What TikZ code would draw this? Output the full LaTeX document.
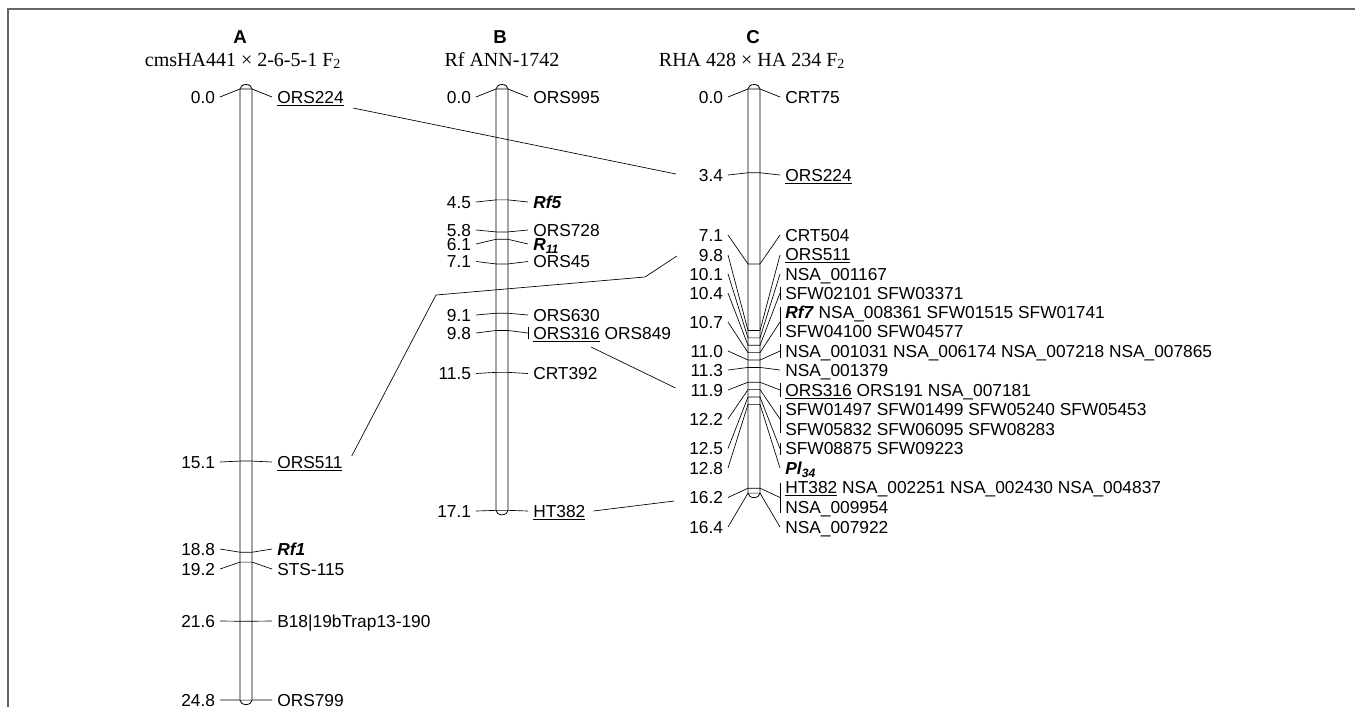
\documentclass[tikz,border=0pt]{standalone}
\usepackage{fontspec}
\setmainfont{Liberation Sans}
\newfontfamily\titlefont{Liberation Serif}
\usetikzlibrary{calc}
\newcommand{\gene}[1]{\textbf{\textit{#1}}}

\tikzset{
  bar/.style={draw=black, fill=white, line width=0.6pt},
  link/.style={draw=black, line width=0.5pt},
  frame/.style={draw=black!60, line width=1.1pt},
  num/.style={anchor=east, inner sep=0pt, outer xsep=3.75pt, font=\fontsize{13}{15}\selectfont,
    text height=9.3pt, text depth=0pt},
  lab/.style={anchor=west, inner sep=0pt, font=\fontsize{13}{15}\selectfont,
    text height=9.3pt, text depth=0pt},
  hd/.style={anchor=base, inner sep=0pt, font=\bfseries\fontsize{14}{16}\selectfont},
  ttl/.style={anchor=base, inner sep=0pt, font=\titlefont\fontsize{15}{18}\selectfont}
}

\begin{document}
\begin{tikzpicture}[x=0.75pt, y=-0.75pt, declare function={cy(\c)=89+24.64*\c;}]
  \useasboundingbox (0,0) rectangle (1355,707);
  \draw[frame] (8,707) -- (8,9) -- (1355,9);

  % Titulos
  \node[hd] (hA) at (240,43) {A};
  \node[ttl] (tA) at (243,66) {cmsHA441 × 2-6-5-1 F\textsubscript{2}};
  \node[hd] (hB) at (500,43) {B};
  \node[ttl] (tB) at (502,66) {Rf ANN-1742};
  \node[hd] (hC) at (753,43) {C};
  \node[ttl] (tC) at (752,66) {RHA 428 × HA 234 F\textsubscript{2}};

  % Grupo A
  \begin{scope}[shift={(246,0)}]
    \draw[bar] (-6,{cy(0)}) arc[start angle=180, end angle=360, x radius=6, y radius=4.5]
      -- (6,{cy(24.8)}) arc[start angle=0, end angle=180, x radius=6, y radius=4.5] -- cycle;
    \foreach \id/\cm/\ly in {A1/0.0/97, A2/15.1/462, A3/18.8/549, A4/19.2/569,
        A5/21.6/621, A6/24.8/700}{
      \node[num] (\id) at (-26,\ly) {\cm};
      \coordinate (\id-l) at (-6,{cy(\cm)});
      \coordinate (\id-r) at (6,{cy(\cm)});
      \coordinate (\id-t) at (26,\ly);
      \draw[link] (\id.east) -- (\id-l) -- (\id-r) -- (\id-t);
    }
    \foreach \id/\ly/\txt in {A1-lab/97/\underline{ORS224}, A2-lab/462/\underline{ORS511},
        A3-lab/549/\gene{Rf1}, A4-lab/569/STS-115, A5-lab/621/B18\textbar19bTrap13-190,
        A6-lab/700/ORS799}{
      \node[lab] (\id) at (31,\ly) {\txt};
    }
  \end{scope}

  % Grupo B
  \begin{scope}[shift={(502,0)}]
    \draw[bar] (-6,{cy(0)}) arc[start angle=180, end angle=360, x radius=6, y radius=4.5]
      -- (6,{cy(17.1)}) arc[start angle=0, end angle=180, x radius=6, y radius=4.5] -- cycle;
    \foreach \id/\cm/\ly in {B1/0.0/97, B2/4.5/202, B3/5.8/230, B4/6.1/244, B5/7.1/261.5,
        B6/9.1/315, B7/9.8/333, B8/11.5/373.5, B9/17.1/511}{
      \node[num] (\id) at (-26,\ly) {\cm};
      \coordinate (\id-l) at (-6,{cy(\cm)});
      \coordinate (\id-r) at (6,{cy(\cm)});
      \coordinate (\id-t) at (26,\ly);
      \draw[link] (\id.east) -- (\id-l) -- (\id-r) -- (\id-t);
    }
    \foreach \id/\ly/\txt in {B1-lab/97/ORS995, B2-lab/202/\gene{Rf5}, B3-lab/230/ORS728,
        B4-lab/244/\gene{R}\textsubscript{\gene{11}}, B5-lab/261.5/ORS45, B6-lab/315/ORS630,
        B7-lab/333/\underline{ORS316} ORS849, B8-lab/373.5/CRT392,
        B9-lab/511/\underline{HT382}}{
      \node[lab] (\id) at (31,\ly) {\txt};
    }
    \draw[link] ($(B7-t)+(0,-6)$) -- ($(B7-t)+(0,6)$);
  \end{scope}

  % Grupo C
  \begin{scope}[shift={(754,0)}]
    \draw[bar] (-6,{cy(0)}) arc[start angle=180, end angle=360, x radius=6, y radius=4.5]
      -- (6,{cy(16.4)}) arc[start angle=0, end angle=180, x radius=6, y radius=4.5] -- cycle;
    \foreach \id/\cm/\ly in {C1/0.0/97, C2/3.4/175, C3/7.1/235, C4/9.8/255, C5/10.1/274,
        C6/10.4/293, C7/10.7/322, C8/11.0/351, C9/11.3/370, C10/11.9/390, C11/12.2/419,
        C12/12.5/448.5, C13/12.8/468, C14/16.2/497.5, C15/16.4/527}{
      \node[num] (\id) at (-26,\ly) {\cm};
      \coordinate (\id-l) at (-6,{cy(\cm)});
      \coordinate (\id-r) at (6,{cy(\cm)});
      \coordinate (\id-t) at (26,\ly);
      \draw[link] (\id.east) -- (\id-l) -- (\id-r) -- (\id-t);
    }
    \foreach \id/\ly/\txt in {C1-lab/97/CRT75, C2-lab/175/\underline{ORS224},
        C3-lab/235/CRT504, C4-lab/254.5/\underline{ORS511}, C5-lab/274/NSA\_001167,
        C6-lab/293/SFW02101 SFW03371,
        C7-lab/312.5/\gene{Rf7} NSA\_008361 SFW01515 SFW01741,
        C7-lab2/331.5/SFW04100 SFW04577,
        C8-lab/351/NSA\_001031 NSA\_006174 NSA\_007218 NSA\_007865,
        C9-lab/370/NSA\_001379, C10-lab/390/\underline{ORS316} ORS191 NSA\_007181,
        C11-lab/409/SFW01497 SFW01499 SFW05240 SFW05453,
        C11-lab2/429/SFW05832 SFW06095 SFW08283,
        C12-lab/448.5/SFW08875 SFW09223, C13-lab/468/\gene{Pl}\textsubscript{\gene{34}},
        C14-lab/487.5/\underline{HT382} NSA\_002251 NSA\_002430 NSA\_004837,
        C14-lab2/507/NSA\_009954, C15-lab/527/NSA\_007922}{
      \node[lab] (\id) at (31,\ly) {\txt};
    }
    % marcas de grupo
    \foreach \id/\h in {C6/6.5, C7/15, C8/7, C10/7, C11/14, C12/6, C14/15}{
      \draw[link] ($(\id-t)+(0,-\h)$) -- ($(\id-t)+(0,\h)$);
    }
  \end{scope}

  % Marcadores comunes
  \draw[link] ($(A1-lab.east)+(9,11)$) -- ($(C2.west)+(-18,-1)$);
  \draw[link] ($(A2-lab.east)+(9,-6)$) -- (436,295) -- (645,277) -- ($(C4.west)+(-17,1)$);
  \draw[link] ($(B7-lab.west)+(58,14)$) -- ($(C10.west)+(-10,-2)$);
  \draw[link] ($(B9-lab.east)+(8,0)$) -- ($(C14.west)+(-10,3.5)$);
\end{tikzpicture}
\end{document}
